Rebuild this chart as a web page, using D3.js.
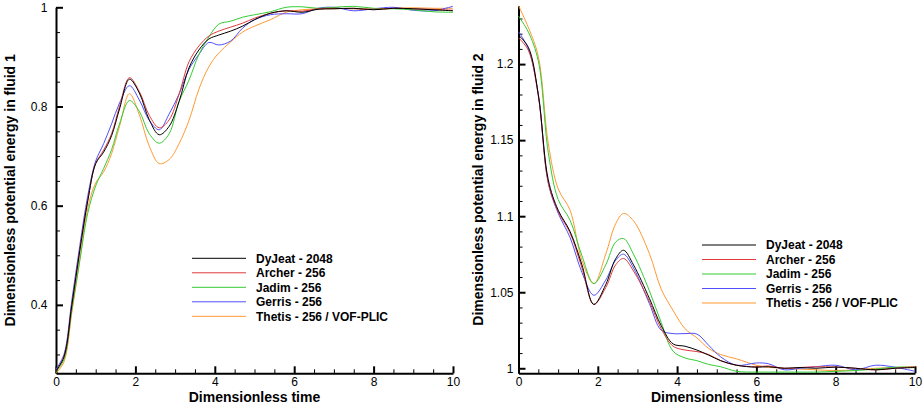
<!DOCTYPE html>
<html lang="en">
<head>
<meta charset="utf-8" />
<title>Potential energy</title>
<script src="https://cdn.jsdelivr.net/npm/d3@7/dist/d3.min.js"></script>
<style>
    body { margin: 0; background: #fff; }
    svg { display: block; font-family: "Liberation Sans", Arial, sans-serif; }
    .tick text { font-size: 12px; fill: #000; }
    .title { font-size: 14px; font-weight: bold; }
    .legend text { font-size: 12px; font-weight: bold; }
</style>
</head>
<body>
<div id="chart"></div>
<script>
    // ---------- data ----------
    var seriesNames = ["DyJeat - 2048", "Archer - 256", "Jadim - 256", "Gerris - 256", "Thetis - 256 / VOF-PLIC"];
    var seriesColors = ["#000000", "#e03a3a", "#33cc33", "#5050ff", "#ff9933"];

    var xTicks = [0, 2, 4, 6, 8, 10];
    var yTicks1 = [0.4, 0.6, 0.8, 1];
    var yTicks2 = [1, 1.05, 1.1, 1.15, 1.2];

    // fluid 1
    var time1 = [0, 0.2, 0.4, 0.6, 0.8, 1.0, 1.2, 1.4, 1.6, 1.85, 2.1, 2.35, 2.6, 2.85, 3.1, 3.35, 3.6, 3.85, 4.1, 4.4, 4.7, 5.0, 5.4, 5.8, 6.2, 6.6, 7.0, 7.5, 8.0, 8.5, 9.0, 9.5, 10];
    var dyjeat1 = [0.267, 0.295, 0.40, 0.51, 0.61, 0.685, 0.708, 0.741, 0.795, 0.855, 0.827, 0.773, 0.743, 0.76, 0.81, 0.878, 0.914, 0.936, 0.944, 0.952, 0.962, 0.975, 0.988, 0.993, 0.990, 0.996, 0.997, 0.998, 0.995, 0.998, 0.997, 0.995, 0.993];
    var archer1 = [0.267, 0.295, 0.40, 0.51, 0.61, 0.685, 0.712, 0.745, 0.80, 0.858, 0.83, 0.782, 0.757, 0.773, 0.825, 0.89, 0.922, 0.942, 0.952, 0.960, 0.968, 0.978, 0.988, 0.993, 0.992, 0.997, 0.998, 0.997, 0.996, 0.998, 0.997, 0.996, 0.994];
    var jadim1 = [0.265, 0.29, 0.39, 0.49, 0.585, 0.64, 0.675, 0.713, 0.765, 0.812, 0.79, 0.745, 0.726, 0.745, 0.81, 0.853, 0.905, 0.94, 0.966, 0.972, 0.98, 0.985, 0.991, 1.0, 1.001, 0.998, 1.0, 1.002, 0.998, 0.997, 0.995, 0.991, 0.990];
    var gerris1 = [0.27, 0.30, 0.41, 0.52, 0.62, 0.69, 0.725, 0.765, 0.807, 0.842, 0.813, 0.772, 0.753, 0.785, 0.825, 0.875, 0.905, 0.929, 0.924, 0.932, 0.958, 0.975, 0.985, 0.987, 0.987, 0.998, 1.0, 0.993, 0.997, 1.0, 0.994, 0.993, 1.002];
    var thetis1 = [0.262, 0.285, 0.385, 0.49, 0.595, 0.646, 0.668, 0.705, 0.76, 0.826, 0.783, 0.72, 0.685, 0.693, 0.725, 0.772, 0.835, 0.88, 0.908, 0.93, 0.95, 0.962, 0.975, 0.99, 0.995, 0.997, 0.997, 0.998, 0.996, 0.998, 0.999, 0.998, 0.998];

    // fluid 2
    var time2 = [0, 0.25, 0.5, 0.75, 1.0, 1.3, 1.6, 1.9, 2.2, 2.45, 2.65, 2.9, 3.3, 3.6, 3.9, 4.2, 4.5, 4.8, 5.1, 5.5, 6.0, 6.3, 6.7, 7.1, 7.5, 8.0, 8.5, 9.0, 9.5, 10];
    var dyjeat2 = [1.219, 1.211, 1.180, 1.124, 1.104, 1.090, 1.068, 1.042, 1.055, 1.072, 1.0776, 1.068, 1.046, 1.028, 1.016, 1.0145, 1.012, 1.0086, 1.005, 1.002, 1.0007, 1.001, 1.0, 1.0005, 1.0, 1.0008, 1.0, 0.999, 1.0, 1.0005];
    var archer2 = [1.2173, 1.209, 1.179, 1.122, 1.103, 1.089, 1.066, 1.042, 1.053, 1.068, 1.0722, 1.064, 1.044, 1.026, 1.0145, 1.012, 1.011, 1.009, 1.005, 1.002, 1.001, 1.0015, 1.0, 1.0005, 1.001, 1.0008, 1.0, 0.999, 1.0, 1.001];
    var jadim2 = [1.2316, 1.221, 1.202, 1.142, 1.111, 1.0974, 1.074, 1.0557, 1.068, 1.083, 1.0853, 1.075, 1.051, 1.030, 1.0112, 1.0068, 1.005, 1.0025, 1.001, 0.998, 0.9975, 0.9975, 0.9975, 0.9975, 0.9975, 0.998, 0.9985, 0.9995, 1.0007, 1.0007];
    var gerris2 = [1.2213, 1.21, 1.18, 1.122, 1.102, 1.086, 1.063, 1.048, 1.058, 1.071, 1.075, 1.066, 1.0426, 1.025, 1.0228, 1.0228, 1.0225, 1.015, 1.0075, 1.002, 1.0035, 1.003, 0.999, 1.0, 1.001, 1.002, 0.999, 1.002, 1.0007, 0.998];
    var thetis2 = [1.2384, 1.224, 1.205, 1.148, 1.118, 1.104, 1.071, 1.0557, 1.075, 1.095, 1.1018, 1.097, 1.0755, 1.052, 1.038, 1.026, 1.02, 1.013, 1.009, 1.0062, 1.002, 1.0007, 1.0, 0.9995, 0.999, 0.9985, 0.999, 1.0, 1.0005, 1.001];

    // ---------- drawing ----------
    var width = 924, height = 408;
    var svg = d3.select("#chart").append("svg")
        .attr("width", width)
        .attr("height", height);

    function drawPanel(p) {
        var x = d3.scaleLinear().domain([0, 10]).range([p.left, p.right]);
        var y = d3.scaleLinear().domain(p.yDomain).range([p.bottom, p.top]);
        var g = svg.append("g");

        // minor ticks
        var xMinor = d3.range(0.5, 10, 0.5).filter(function (v) { return Math.abs(v / 2 - Math.round(v / 2)) > 1e-6; });
        g.append("g")
            .attr("transform", "translate(0," + p.bottom + ")")
            .call(d3.axisBottom(x).tickValues(xMinor).tickSize(-4).tickFormat(""))
            .call(function (a) { a.select(".domain").remove(); });
        g.append("g")
            .attr("transform", "translate(" + p.left + ",0)")
            .call(d3.axisLeft(y).tickValues(p.yMinor).tickSize(-4).tickFormat(""))
            .call(function (a) { a.select(".domain").remove(); });

        // major axes
        var xa = g.append("g")
            .attr("transform", "translate(0," + p.bottom + ")")
            .call(d3.axisBottom(x).tickValues(xTicks).tickSizeInner(-7).tickSizeOuter(0).tickPadding(4).tickFormat(d3.format("d")));
        var ya = g.append("g")
            .attr("transform", "translate(" + p.left + ",0)")
            .call(d3.axisLeft(y).tickValues(p.yTicks).tickSizeInner(-7).tickSizeOuter(0).tickPadding(p.yPad).tickFormat(function (d) { return String(+d.toFixed(2)); }));
        [xa, ya].forEach(function (a) {
            a.select(".domain").attr("stroke-width", 2);
            a.selectAll(".tick line").attr("stroke-width", 2);
            a.selectAll(".tick text").attr("font-family", null).attr("font-size", null);
        });

        // curves
        var line = d3.line()
            .x(function (d) { return x(d[0]); })
            .y(function (d) { return y(d[1]); })
            .curve(d3.curveCatmullRom.alpha(0.5));
        // draw order so that black ends on top like the reference
        [4, 3, 2, 1, 0].forEach(function (i) {
            var pts = p.time.map(function (t, k) { return [t, p.series[i][k]]; });
            g.append("path")
                .attr("d", line(pts))
                .attr("fill", "none")
                .attr("stroke", seriesColors[i])
                .attr("stroke-width", 1);
        });

        // titles
        svg.append("text").attr("class", "title")
            .attr("x", (p.left + p.right) / 2).attr("y", 402)
            .attr("text-anchor", "middle")
            .text("Dimensionless time");
        svg.append("text").attr("class", "title")
            .attr("transform", "translate(" + p.titleX + "," + ((p.top + p.bottom) / 2) + ") rotate(-90)")
            .attr("text-anchor", "middle")
            .text(p.yTitle);

        // legend
        var lg = svg.append("g").attr("class", "legend");
        seriesNames.forEach(function (name, i) {
            var ly = p.legendY + i * 14.5;
            lg.append("line")
                .attr("x1", p.legendX).attr("x2", p.legendX + 54)
                .attr("y1", ly).attr("y2", ly)
                .attr("stroke", seriesColors[i]).attr("stroke-width", 1);
            lg.append("text")
                .attr("x", p.legendX + 64).attr("y", ly).attr("dy", "0.35em")
                .text(name);
        });
    }

    drawPanel({
        left: 56, right: 453, top: 7.3, bottom: 373.3,
        yDomain: [0.262, 1],
        yTicks: yTicks1,
        yMinor: d3.range(0.3, 0.99, 0.05).filter(function (v) { return Math.abs(v * 5 - Math.round(v * 5)) > 1e-6; }),
        yPad: 8.5,
        time: time1,
        series: [dyjeat1, archer1, jadim1, gerris1, thetis1],
        titleX: 15,
        yTitle: "Dimensionless potential energy in fluid 1",
        legendX: 192, legendY: 258.3
    });

    drawPanel({
        left: 518.5, right: 915, top: 5.7, bottom: 373.3,
        yDomain: [0.9967, 1.2384],
        yTicks: yTicks2,
        yMinor: d3.range(1.01, 1.235, 0.01).filter(function (v) { return Math.abs(v * 20 - Math.round(v * 20)) > 1e-6; }),
        yPad: 5,
        time: time2,
        series: [dyjeat2, archer2, jadim2, gerris2, thetis2],
        titleX: 483,
        yTitle: "Dimensionless potential energy in fluid 2",
        legendX: 702, legendY: 245
    });
</script>
</body>
</html>
